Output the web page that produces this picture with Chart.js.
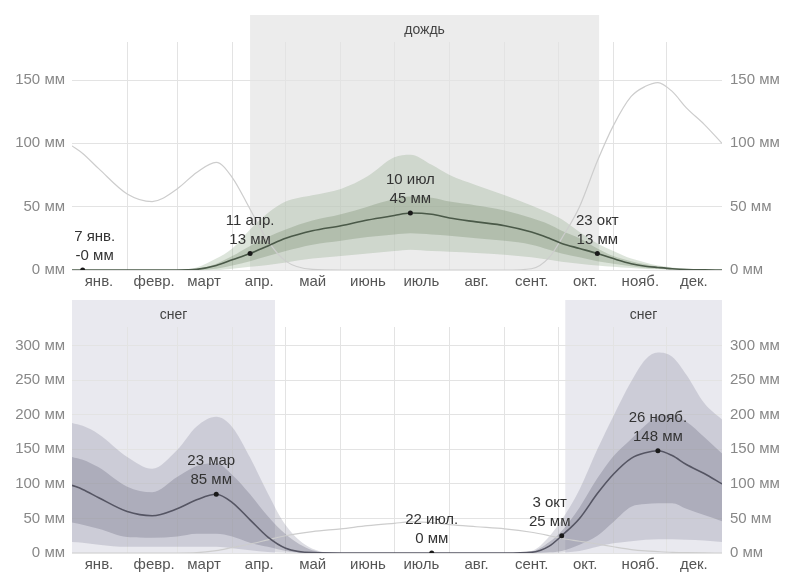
<!DOCTYPE html>
<html lang="ru">
<head>
<meta charset="utf-8">
<title>Дождь и снег</title>
<script src="https://cdn.jsdelivr.net/npm/chart.js@4.4.1/dist/chart.umd.min.js"></script>
<style>
  html, body { margin: 0; padding: 0; background: #fff; }
  #wrap { position: relative; width: 785px; height: 574px; }
  canvas { position: absolute; left: 0; }
  #rainChart { top: 0; }
  #snowChart { top: 290px; }
</style>
</head>
<body>
<div id="wrap">
  <canvas id="rainChart" width="785" height="290"></canvas>
  <canvas id="snowChart" width="785" height="284"></canvas>
</div>
<script>
document.addEventListener("DOMContentLoaded", function () {
  // --- данные ---
  const monthLabels = ["янв.", "февр.", "март", "апр.", "май", "июнь", "июль", "авг.", "сент.", "окт.", "нояб.", "дек."];
  const monthStarts = [0, 31, 59, 90, 120, 151, 181, 212, 243, 273, 304, 334];

  // день года (0 = 1 янв.)
  const days = [0, 6, 15, 31, 45, 59, 70, 81, 90, 100, 110, 120, 135, 151, 166, 181, 190, 202, 212, 227,
                243, 258, 268, 275, 285, 295, 304, 314, 322, 329, 337, 345, 355, 365];

  // дождь, мм (скользящие 31 день)
  const rainP10 = [0, 0, 0, 0, 0, 0, 0, 0, 1, 2.5, 4, 6, 9, 11, 13, 15, 16, 15, 14.5, 13.5,
                   12, 10, 8, 6.5, 5, 3.5, 2.5, 1.5, 0.8, 0.5, 0.2, 0, 0, 0];
  const rainP25 = [0, 0, 0, 0, 0, 0, 0, 1, 3.5, 7, 11, 15, 20, 23, 26, 28, 29, 28, 27, 25,
                   23, 20, 16, 13, 10, 7, 5, 3, 1.5, 1, 0.4, 0.1, 0, 0];
  const rainP50 = [0, 0, 0, 0, 0, 0, 0.5, 3.5, 8, 13, 19, 25, 31, 35, 39.5, 43, 45, 44, 41, 38,
                   35, 30, 25, 21, 17, 13, 9, 5, 3, 2, 1, 0.4, 0.1, 0];
  const rainP75 = [0, 0, 0, 0, 0, 0, 1, 5, 11, 19, 26, 32, 39, 44, 50, 56, 58, 57, 54, 51,
                   47, 41, 36, 31, 25, 17, 11, 7, 4.5, 2.5, 1.5, 0.7, 0.2, 0];
  const rainP90 = [0, 0, 0, 0, 0, 0, 2, 9, 17, 32, 45, 54, 59, 64, 74, 89, 91, 83, 75, 67,
                   59, 51, 45, 40, 30, 21, 15, 9, 6, 3.5, 2, 1, 0.3, 0];

  // снег, мм
  const snowP10 = [16, 15, 12, 9, 9, 9, 9, 9, 7, 4, 1.5, 0.5, 0, 0, 0, 0, 0, 0, 0, 0,
                   0, 0, 0, 0.5, 3, 9, 14, 17, 19, 20, 20, 19, 18, 16];
  const snowP25 = [44, 41, 35, 23, 22, 24, 28, 28, 24, 15, 9, 3, 0, 0, 0, 0, 0, 0, 0, 0,
                   0, 0, 1, 3, 12, 25, 45, 67, 71, 72, 72, 64, 55, 46];
  const snowP50 = [98, 92, 80, 60, 54, 64, 77, 85, 73, 48, 23, 7, 0.5, 0, 0, 0, 0, 0, 0, 0,
                   0, 1, 10, 25, 50, 86, 114, 137, 145, 148, 141, 128, 115, 100];
  const snowP75 = [139, 135, 124, 96, 88, 110, 126, 130, 113, 85, 53, 27, 4, 0, 0, 0, 0, 0, 0, 0,
                   0, 2, 16, 32, 66, 108, 140, 165, 185, 198, 200, 190, 168, 144];
  const snowP90 = [188, 184, 172, 139, 122, 149, 183, 197, 182, 138, 86, 40, 6, 0, 0, 0, 0, 0, 0, 0,
                   0, 3, 24, 48, 92, 150, 198, 248, 280, 290, 284, 258, 217, 193];

  const rainTicks = [0, 50, 100, 150];
  const snowTicks = [0, 50, 100, 150, 200, 250, 300];

  const rainSeason = [[100, 296]];
  const snowSeason = [[0, 114], [277, 365]];

  const rainNoteDays = [6, 100, 190, 295];
  const rainNoteValues = [0, 13, 45, 13];
  const rainNoteDates = ["7 янв.", "11 апр.", "10 июл", "23 окт"];
  const rainNoteAmounts = ["-0 мм", "13 мм", "45 мм", "13 мм"];

  const snowNoteDays = [81, 202, 275, 329];
  const snowNoteValues = [85, 0, 25, 148];
  const snowNoteDates = ["23 мар", "22 июл.", "3 окт", "26 нояб."];
  const snowNoteAmounts = ["85 мм", "0 мм", "25 мм", "148 мм"];

  // --- стиль ---
  const FONT = "'Liberation Sans', Arial, sans-serif";
  Chart.defaults.font.family = FONT;
  Chart.defaults.font.size = 15;

  const pts = arr => days.map((d, i) => ({ x: d, y: arr[i] }));
  const clear = "rgba(0,0,0,0)";

  // фон сезона + подпись
  const seasonPlugin = {
    id: "season",
    beforeDraw(chart, args, opts) {
      const { ctx, chartArea } = chart;
      const x = chart.scales.x;
      ctx.save();
      opts.ranges.forEach(r => {
        const x0 = x.getPixelForValue(r[0]);
        const x1 = x.getPixelForValue(r[1]);
        ctx.fillStyle = opts.color;
        ctx.fillRect(x0, opts.top, x1 - x0, chartArea.bottom - opts.top);
        ctx.fillStyle = "#444";
        ctx.font = "14px " + FONT;
        ctx.textAlign = "center";
        ctx.textBaseline = "middle";
        ctx.fillText(opts.label, (x0 + x1) / 2, opts.top + 15);
      });
      ctx.restore();
    }
  };

  // подписи к точкам
  const notesPlugin = {
    id: "notes",
    afterDatasetsDraw(chart, args, opts) {
      const { ctx } = chart;
      const { x, y } = chart.scales;
      ctx.save();
      ctx.fillStyle = "#333";
      ctx.font = "15px " + FONT;
      ctx.textAlign = "center";
      ctx.textBaseline = "middle";
      opts.days.forEach((d, i) => {
        const px = x.getPixelForValue(d) + (opts.dx[i] || 0);
        const py = y.getPixelForValue(opts.values[i]);
        ctx.fillText(opts.amounts[i], px, py - 14);
        ctx.fillText(opts.dates[i], px, py - 33);
      });
      ctx.restore();
    }
  };

  function makePanel(canvasId, p) {
    const canvas = document.getElementById(canvasId);
    return new Chart(canvas.getContext("2d"), {
      type: "line",
      data: {
        datasets: [
          { data: p.noteDays.map((d, i) => ({ x: d, y: p.noteValues[i] })), showLine: false,
            pointRadius: 2.5, pointBackgroundColor: "#1a1a1a", pointBorderWidth: 0 },
          { data: pts(p.p50), borderColor: p.lineColor, borderWidth: 1.6, pointRadius: 0 },
          { data: pts(p.other), borderColor: "#cdcdcd", borderWidth: 1.2, pointRadius: 0 },
          { data: pts(p.p75), borderColor: clear, borderWidth: 1, pointRadius: 0, fill: 4, backgroundColor: p.innerColor },
          { data: pts(p.p25), borderColor: clear, borderWidth: 1, pointRadius: 0 },
          { data: pts(p.p90), borderColor: clear, borderWidth: 1, pointRadius: 0, fill: 6, backgroundColor: p.outerColor },
          { data: pts(p.p10), borderColor: clear, borderWidth: 1, pointRadius: 0 }
        ]
      },
      options: {
        responsive: false,
        animation: false,
        devicePixelRatio: 1,
        layout: { padding: { top: p.padTop, left: 0, right: 0, bottom: 0 } },
        elements: { line: { cubicInterpolationMode: "monotone" } },
        plugins: {
          legend: { display: false },
          tooltip: { enabled: false },
          season: { ranges: p.seasons, color: p.seasonColor, top: p.seasonTop, label: p.seasonLabel },
          notes: { days: p.noteDays, values: p.noteValues, dates: p.noteDates, amounts: p.noteAmounts, dx: p.noteDx }
        },
        scales: {
          x: {
            type: "linear", min: 0, max: 365,
            afterBuildTicks: s => { s.ticks = monthStarts.map(v => ({ value: v })); },
            afterFit: s => { s.height = p.xHeight; },
            ticks: { callback: (v, i) => monthLabels[i], labelOffset: 27, autoSkip: false,
                     maxRotation: 0, padding: 3, color: "#555" },
            grid: { drawTicks: false, color: c => (c.tick && c.tick.value === 0) ? clear : "#e3e3e3" },
            border: { display: false }
          },
          y: {
            position: "left", min: 0, max: p.max,
            afterBuildTicks: s => { s.ticks = p.ticks.map(v => ({ value: v })); },
            afterFit: s => { s.width = 72; },
            ticks: { callback: v => v + " мм", padding: 7, color: "#888" },
            grid: { drawTicks: false, color: "#e3e3e3" },
            border: { display: false }
          },
          y2: {
            position: "right", min: 0, max: p.max, display: true,
            afterBuildTicks: s => { s.ticks = p.ticks.map(v => ({ value: v })); },
            afterFit: s => { s.width = 63; },
            ticks: { callback: v => v + " мм", padding: 8, color: "#888" },
            grid: { display: false, drawTicks: false },
            border: { display: false }
          }
        }
      },
      plugins: [seasonPlugin, notesPlugin]
    });
  }

  makePanel("rainChart", {
    p10: rainP10, p25: rainP25, p50: rainP50, p75: rainP75, p90: rainP90, other: snowP50,
    max: 180, ticks: rainTicks, padTop: 42, xHeight: 20,
    seasons: rainSeason, seasonColor: "#ececec", seasonTop: 15, seasonLabel: "дождь",
    lineColor: "#4a5948", innerColor: "rgba(90,115,80,0.25)", outerColor: "rgba(120,150,110,0.25)",
    noteDays: rainNoteDays, noteValues: rainNoteValues, noteDates: rainNoteDates, noteAmounts: rainNoteAmounts,
    noteDx: [12, 0, 0, 0]
  });

  makePanel("snowChart", {
    p10: snowP10, p25: snowP25, p50: snowP50, p75: snowP75, p90: snowP90, other: rainP50,
    max: 327, ticks: snowTicks, padTop: 37, xHeight: 21,
    seasons: snowSeason, seasonColor: "#e9e9ef", seasonTop: 10, seasonLabel: "снег",
    lineColor: "#555563", innerColor: "rgba(90,90,110,0.27)", outerColor: "rgba(120,120,145,0.25)",
    noteDays: snowNoteDays, noteValues: snowNoteValues, noteDates: snowNoteDates, noteAmounts: snowNoteAmounts,
    noteDx: [-5, 0, -12, 0]
  });
});
</script>
</body>
</html>
